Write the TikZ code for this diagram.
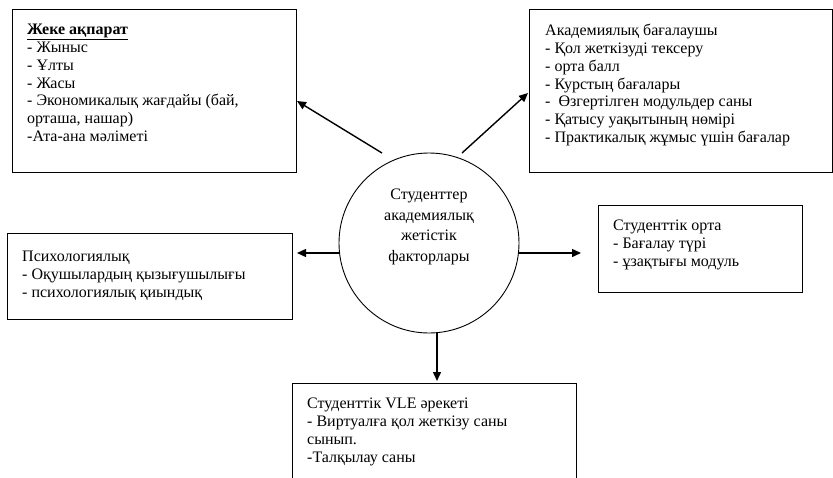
\documentclass[tikz,border=0pt]{standalone}
\usepackage{fontspec}
\setmainfont{Liberation Serif}
\usetikzlibrary{arrows.meta}
\begin{document}
\begin{tikzpicture}[x=1pt,y=-1pt,
  box/.style={draw, line width=0.9pt, anchor=north west, inner sep=0pt},
  txt/.style={anchor=north west, align=left, inner sep=0pt, font=\fontsize{16}{17.8}\selectfont},
  arr/.style={line width=1.4pt, -{Triangle[length=9pt,width=8pt]}}]
\useasboundingbox (0,0) rectangle (833,477);
% boxes
\node[box, minimum width=284pt, minimum height=163pt] (tl) at (12,9) {};
\node[box, minimum width=303pt, minimum height=163pt] (tr) at (529,9) {};
\node[box, minimum width=285pt, minimum height=86pt] (ps) at (7,233) {};
\node[box, minimum width=204pt, minimum height=87pt] (en) at (598,205) {};
\node[box, minimum width=284pt, minimum height=130pt] (vl) at (292,383) {};
% texts
\node[txt] (tlt) at (27,24) {\underline{\textbf{Жеке ақпарат}}\\- Жыныс\\- Ұлты\\- Жасы\\- Экономикалық жағдайы (бай,\\орташа, нашар)\\-Ата-ана мәліметі};
\node[txt] (trt) at (545,24) {Академиялық бағалаушы\\- Қол жеткізуді тексеру\\- орта балл\\- Курстың бағалары\\-\ \ Өзгертілген модульдер саны\\- Қатысу уақытының нөмірі\\- Практикалық жұмыс үшін бағалар};
\node[txt] (pst) at (22,251) {Психологиялық\\- Оқушылардың қызығушылығы\\- психологиялық қиындық};
\node[txt] (ent) at (613,220) {Студенттік орта\\- Бағалау түрі\\- ұзақтығы модуль};
\node[txt] (vlt) at (307,398) {Студенттік VLE әрекеті\\- Виртуалға қол жеткізу саны\\сынып.\\-Талқылау саны};
% circle
\node[draw, circle, line width=0.9pt, minimum size=180pt, inner sep=0pt] (c) at (429,243) {};
\node[align=center, inner sep=0pt, font=\fontsize{16}{20.5}\selectfont] (ct) at (429,227) {Студенттер\\академиялық\\жетістік\\факторлары};
% connector ends
\coordinate (ulS) at (382,153);
\coordinate (ulE) at (297,101);
\coordinate (urS) at (462,153);
\coordinate (urE) at (528,93);
\coordinate (lS) at (339.6,253);
\coordinate (lE) at (297,253);
\coordinate (rS) at (518.4,253);
\coordinate (rE) at (581,253);
\coordinate (dS) at (437,332);
\coordinate (dE) at (437,381);
\draw[arr] (ulS) -- (ulE);
\draw[arr] (urS) -- (urE);
\draw[arr] (lS) -- (lE);
\draw[arr] (rS) -- (rE);
\draw[arr] (dS) -- (dE);
\end{tikzpicture}
\end{document}
